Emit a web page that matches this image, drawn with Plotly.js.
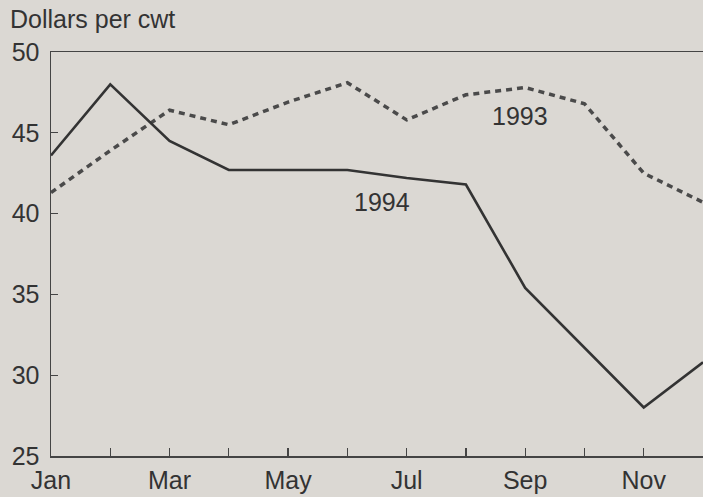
<!DOCTYPE html>
<html>
<head>
<meta charset="utf-8">
<script src="https://cdn.plot.ly/plotly-3.0.1.min.js"></script>
<style>html,body{margin:0;padding:0;background:#dbd8d3;}#chart{width:703px;height:497px;}</style>
</head>
<body>
<div id="chart"></div>
<script>
const months = ["Jan","Feb","Mar","Apr","May","Jun","Jul","Aug","Sep","Oct","Nov","Dec"];
const tickLabels = ["Jan","","Mar","","May","","Jul","","Sep","","Nov",""];
const price1993 = [41.3, 43.9, 46.4, 45.5, 46.9, 48.1, 45.8, 47.35, 47.8, 46.8, 42.5, 40.7];
const price1994 = [43.6, 48.0, 44.5, 42.7, 42.7, 42.7, 42.2, 41.8, 35.4, 31.7, 28.0, 30.8];
const yTicks = [25, 30, 35, 40, 45, 50];

const idx = months.map((m, i) => i);
const font = {family: '"Liberation Sans", Arial, Helvetica, sans-serif', size: 25, color: '#333333'};

const traces = [
  {x: idx, y: price1993, type: 'scatter', mode: 'lines', name: '1993',
   line: {color: '#4a4a4a', width: 3.5, dash: '6px,5px'}, cliponaxis: false, hoverinfo: 'skip'},
  {x: idx, y: price1994, type: 'scatter', mode: 'lines', name: '1994',
   line: {color: '#333333', width: 2.6}, cliponaxis: false, hoverinfo: 'skip'}
];

const layout = {
  width: 703, height: 497,
  paper_bgcolor: '#dbd8d3', plot_bgcolor: '#dbd8d3',
  margin: {l: 51, r: 0, t: 52, b: 41},
  showlegend: false,
  font: font,
  title: {text: 'Dollars per cwt', font: font, x: 10/703, xanchor: 'left', xref: 'container',
          y: 1 - 19/497, yanchor: 'middle', yref: 'container'},
  xaxis: {range: [0, 11], tickvals: idx, ticktext: tickLabels, ticks: 'inside', ticklen: 8,
          tickwidth: 1.3, tickcolor: '#444', showline: true, linecolor: '#444', linewidth: 1.5,
          mirror: true, showgrid: false, zeroline: false, tickfont: font, ticklabelstandoff: 1,
          fixedrange: true},
  yaxis: {range: [25, 50], tickvals: yTicks, ticks: 'inside', ticklen: 7, tickwidth: 1.3,
          tickcolor: '#444', showline: true, linecolor: '#444', linewidth: 1.5,
          showgrid: false, zeroline: false, tickfont: font, ticklabelstandoff: 5, fixedrange: true},
  annotations: [
    {x: 7.92, y: 46.05, xref: 'x', yref: 'y', text: '1993', showarrow: false, font: font},
    {x: 5.58, y: 40.73, xref: 'x', yref: 'y', text: '1994', showarrow: false, font: font}
  ]
};

Plotly.newPlot('chart', traces, layout, {displayModeBar: false, staticPlot: true});
</script>
</body>
</html>
